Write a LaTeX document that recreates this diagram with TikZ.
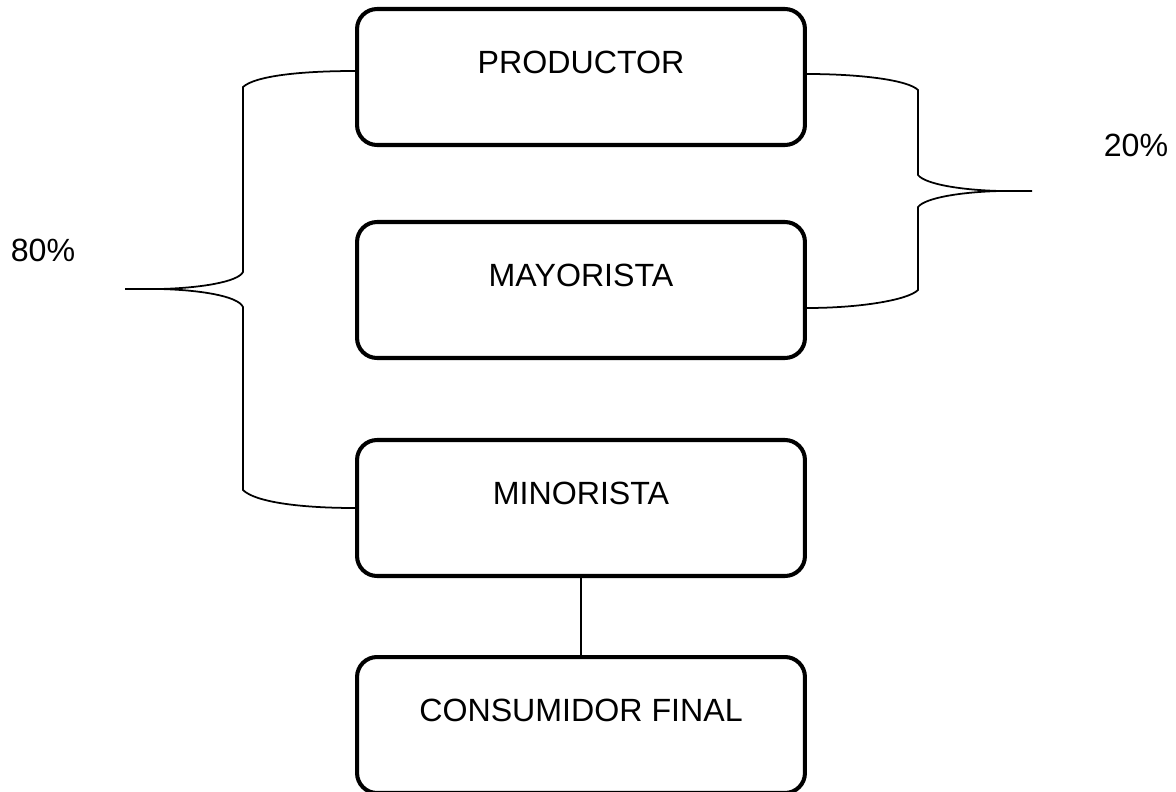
\documentclass[tikz,border=0pt]{standalone}
\usepackage{fontspec}
\setmainfont{Liberation Sans}
\usetikzlibrary{positioning}
\tikzset{stage/.style = {draw, line width = 2.3pt, rounded corners = 0.4cm,
    minimum width = 8.96cm, minimum height = 2.72cm, inner sep = 0,
    text height = 0.46cm, text depth = 0.6cm, font = \fontsize{18.3}{20}\selectfont}}
\tikzset{brace/.style = {line width = 1pt}}

\begin{document}
\begin{tikzpicture}[x = 0.02cm, y = -0.02cm]
      \useasboundingbox (0, 0) rectangle (1176, 791);

      \node [stage] (prod) at (581, 77) {PRODUCTOR};
      \node [stage] (mayo) at (581, 290) {MAYORISTA};
      \node [stage] (mino) at (581, 508) {MINORISTA};
      \node [stage] (cons) at (581, 725) {CONSUMIDOR FINAL};

      \draw [line width = 1pt] (mino) -- (cons);

      % brace on the left
      \coordinate (tipL) at (125, 289);
      \draw [brace] ([yshift = 0.12cm]prod.west) .. controls (300, 71) and (255, 76) .. (243, 87)
        -- (243, 272) .. controls (238, 282) and (200, 288) .. (160, 289) -- (tipL);
      \draw [brace] (160, 289) .. controls (200, 290) and (238, 296) .. (243, 307)
        -- (243, 490) .. controls (255, 502) and (300, 508) .. (mino.west);

      % brace on the right
      \coordinate (tipR) at (1032, 191);
      \draw [brace] ([yshift = 0.06cm]prod.east) .. controls (860, 74) and (908, 80) .. (918, 90)
        -- (918, 175) .. controls (925, 184) and (960, 190) .. (1000, 191) -- (tipR);
      \draw [brace] (1000, 191) .. controls (960, 192) and (925, 198) .. (918, 207)
        -- (918, 290) .. controls (908, 300) and (860, 308) .. ([yshift = -0.36cm]mayo.east);

      \node [font = \fontsize{18.3}{20}\selectfont] (pl) at (43, 250) {80\%};
      \node [font = \fontsize{18.3}{20}\selectfont] (pr) at (1136, 145) {20\%};
    \end{tikzpicture}
\end{document}
